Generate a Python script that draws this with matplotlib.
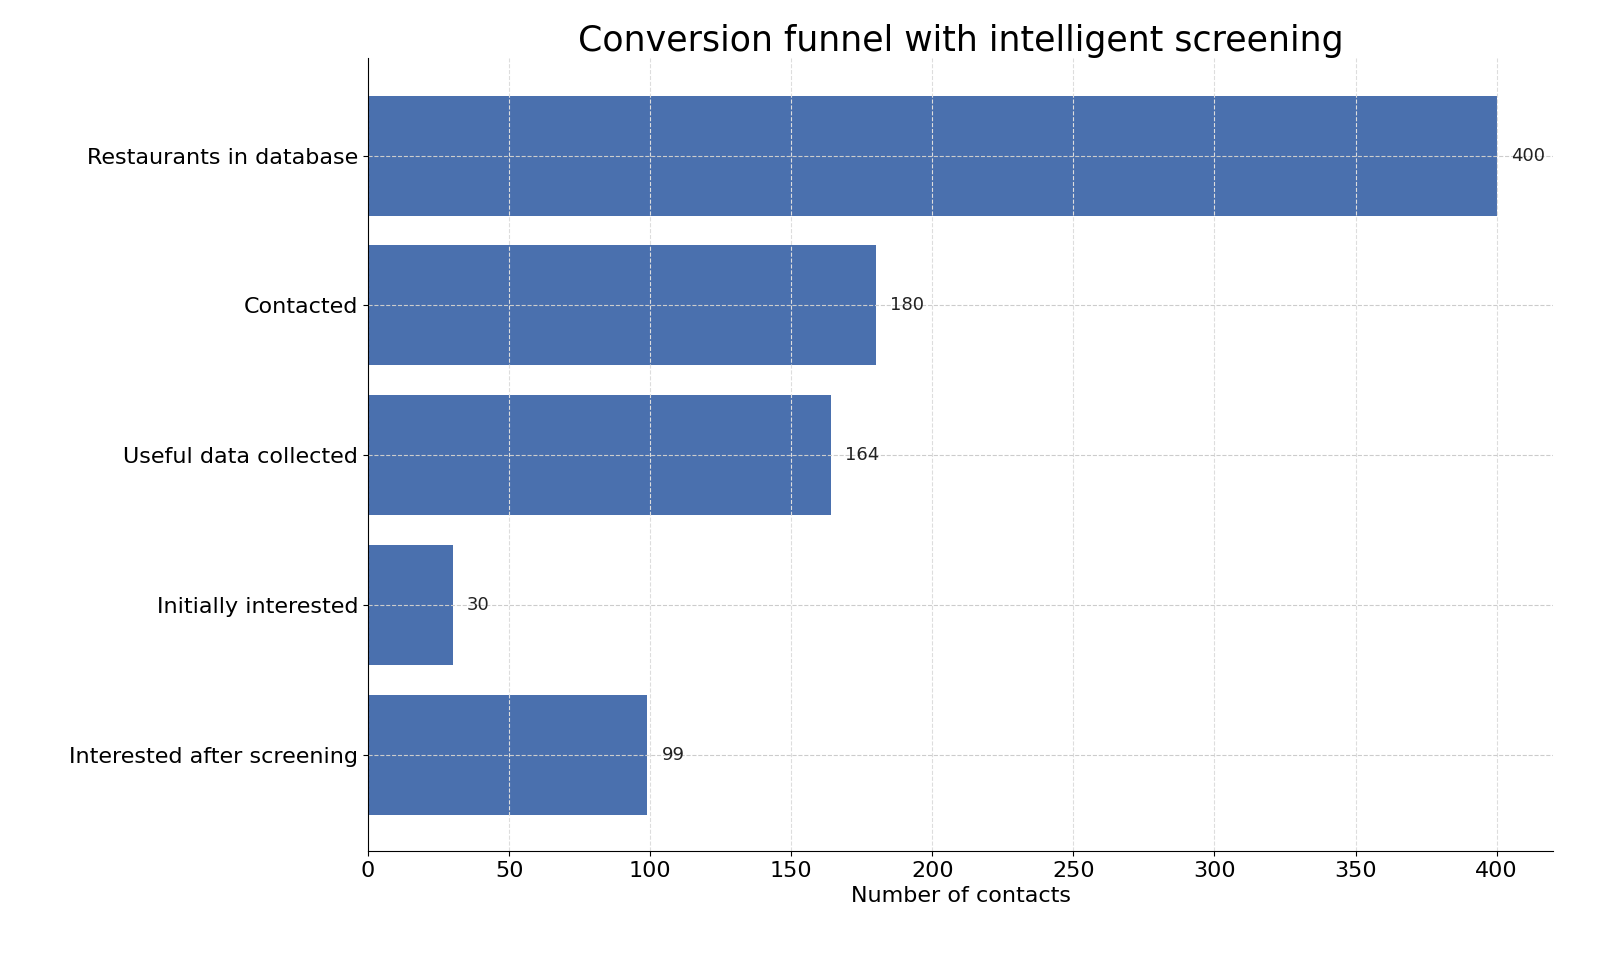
import matplotlib
matplotlib.use("Agg")
import matplotlib.pyplot as plt

stages = ["Restaurants in database", "Contacted", "Useful data collected",
          "Initially interested", "Interested after screening"]
counts = [400, 180, 164, 30, 99]

fig = plt.figure(figsize=(16.24, 9.69), dpi=100)
ax = fig.add_axes([0.2266, 0.1218, 0.7297, 0.8182])
ypos = list(range(len(stages)))[::-1]
ax.barh(ypos, counts, height=0.8, color="#4a70ae", zorder=2)
for y, v in zip(ypos, counts):
    ax.text(v + 5, y, str(v), va="center", ha="left", fontsize=13, color="#222222")
ax.set_yticks(ypos)
ax.set_yticklabels(stages, fontsize=16)
ax.set_xlim(0, 420)
ax.set_ylim(-0.64, 4.65)
ax.set_xticks(range(0, 401, 50))
ax.tick_params(axis="x", labelsize=16)
ax.set_xlabel("Number of contacts", fontsize=16)
ax.set_title("Conversion funnel with intelligent screening", fontsize=25, pad=4)
ax.set_axisbelow(False)
ax.xaxis.grid(True, linestyle="--", color="#dddddd", linewidth=0.8, zorder=1)
ax.yaxis.grid(True, linestyle="--", color="#cccccc", linewidth=0.8, zorder=3)
for line in ax.get_xgridlines():
    line.set_zorder(1)
for line in ax.get_ygridlines():
    line.set_zorder(3)
for s in ["top", "right"]:
    ax.spines[s].set_visible(False)
for s in ["left", "bottom"]:
    ax.spines[s].set_zorder(5)
fig.savefig("out.png", dpi=100)
